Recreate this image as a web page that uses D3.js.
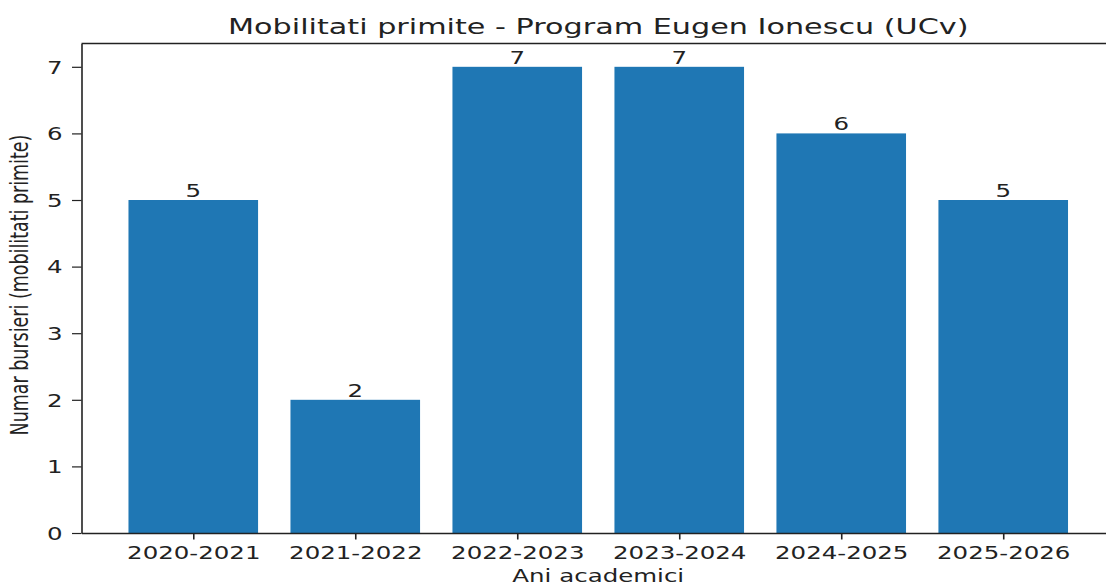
<!DOCTYPE html>
<html>
<head>
<meta charset="utf-8">
<script src="https://cdn.jsdelivr.net/npm/d3@7"></script>
<style>
  html, body { margin: 0; padding: 0; background: #fff; }
  svg { display: block; }
  text { font-family: "DejaVu Sans", sans-serif; fill: #222; }
</style>
</head>
<body>
<svg id="chart" width="1106" height="585"></svg>
<script>
const categories = ["2020-2021", "2021-2022", "2022-2023", "2023-2024", "2024-2025", "2025-2026"];
const values = [5, 2, 7, 7, 6, 5];
const yTicks = [0, 1, 2, 3, 4, 5, 6, 7];
const titleText = "Mobilitati primite - Program Eugen Ionescu (UCv)";
const xLabelText = "Ani academici";
const yLabelText = "Numar bursieri (mobilitati primite)";

(function () {
const SX = 1.4;
const svg = d3.select("#chart");
const pL = 81.5, pR = 1115, pT = 43.5, pB = 533;

const x = d3.scaleLinear().domain([-0.69, categories.length - 1 + 0.69]).range([pL, pR]);
const y = d3.scaleLinear().domain([0, 7.35]).range([pB, pT]);
const barW = x(0.4) - x(-0.4);

// bars
svg.append("g").selectAll("rect").data(values).join("rect")
  .attr("x", (d, i) => x(i) - barW / 2)
  .attr("y", d => y(d))
  .attr("width", barW)
  .attr("height", d => y(0) - y(d))
  .attr("fill", "#1f77b4");

// value labels
svg.append("g").selectAll("text").data(values).join("text")
  .attr("transform", (d, i) => `translate(${x(i)},${y(d) - 3}) scale(${SX},1)`)
  .attr("text-anchor", "middle")
  .attr("font-size", 17.5)
  .text(d => d);

// frame: top and right spines
svg.append("line").attr("x1", pL).attr("x2", pR).attr("y1", pT).attr("y2", pT)
  .attr("stroke", "#222").attr("stroke-width", 1.3);
svg.append("line").attr("x1", pR).attr("x2", pR).attr("y1", pT).attr("y2", pB)
  .attr("stroke", "#222").attr("stroke-width", 1.6);

// y axis
const gy = svg.append("g").attr("transform", `translate(${pL},0)`)
  .call(d3.axisLeft(y).tickValues(yTicks).tickFormat(d3.format("d")).tickSize(9.5).tickSizeOuter(0));
gy.select(".domain").attr("stroke", "#222").attr("stroke-width", 1.6);
gy.selectAll(".tick line").attr("stroke", "#222").attr("stroke-width", 1.2);
gy.selectAll(".tick text")
  .attr("x", null).attr("dy", "0.36em")
  .attr("transform", `translate(-19,0) scale(${SX},1)`)
  .attr("text-anchor", "end")
  .attr("font-size", 17.5)
  .attr("font-family", "DejaVu Sans")
  .attr("fill", "#222");

// x axis
const gx = svg.append("g").attr("transform", `translate(0,${pB})`)
  .call(d3.axisBottom(x).tickValues(d3.range(categories.length)).tickFormat(i => categories[i]).tickSize(6.5).tickSizeOuter(0));
gx.select(".domain").attr("stroke", "#222").attr("stroke-width", 1.3);
gx.selectAll(".tick line").attr("stroke", "#222").attr("stroke-width", 1.6);
gx.selectAll(".tick text")
  .attr("y", null).attr("dy", null)
  .attr("transform", `translate(0,26) scale(${SX},1)`)
  .attr("text-anchor", "middle")
  .attr("font-size", 17.5)
  .attr("font-family", "DejaVu Sans")
  .attr("fill", "#222");

// title
svg.append("text")
  .attr("transform", `translate(${(pL + pR) / 2},33.5) scale(${SX},1)`)
  .attr("text-anchor", "middle")
  .attr("font-size", 21.6)
  .text(titleText);

// x label
svg.append("text")
  .attr("transform", `translate(${(pL + pR) / 2},581.5) scale(${SX},1)`)
  .attr("text-anchor", "middle")
  .attr("font-size", 17.5)
  .text(xLabelText);

// y label
svg.append("text")
  .attr("transform", `translate(28,285) scale(${SX},1) rotate(-90)`)
  .attr("text-anchor", "middle")
  .attr("font-size", 17.5)
  .text(yLabelText);
})();
</script>
</body>
</html>
